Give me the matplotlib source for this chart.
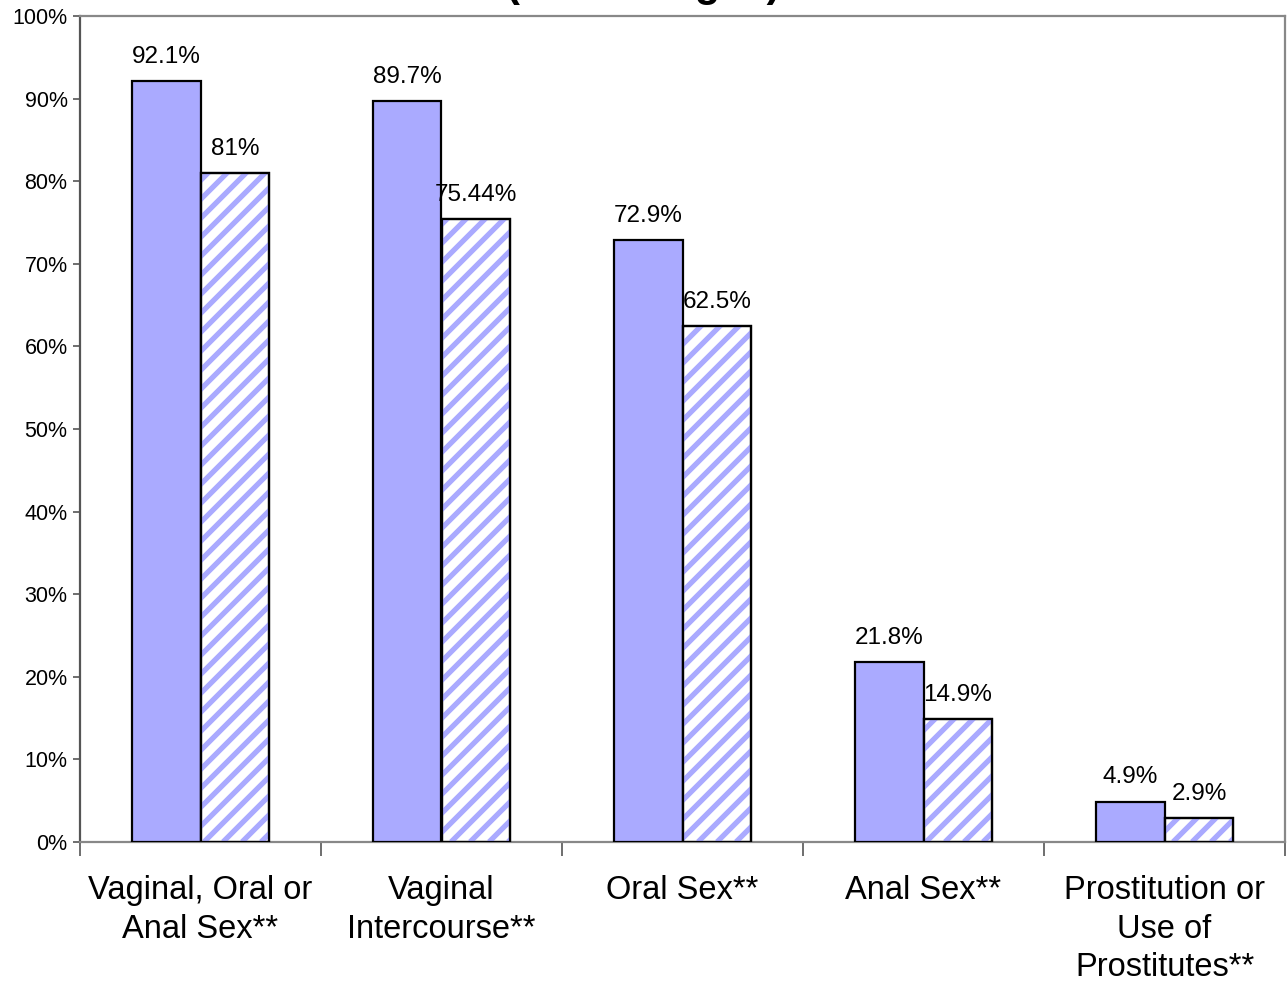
import matplotlib
matplotlib.use("Agg")
import matplotlib.pyplot as plt
import numpy as np
from matplotlib.ticker import FuncFormatter
from matplotlib.collections import LineCollection
from matplotlib.transforms import IdentityTransform

categories = ["Vaginal, Oral or\nAnal Sex**", "Vaginal\nIntercourse**", "Oral Sex**",
              "Anal Sex**", "Prostitution or\nUse of\nProstitutes**"]
solid_vals = [92.1, 89.7, 72.9, 21.8, 4.9]
hatch_vals = [81.0, 75.44, 62.5, 14.9, 2.9]
solid_labels = ["92.1%", "89.7%", "72.9%", "21.8%", "4.9%"]
hatch_labels = ["81%", "75.44%", "62.5%", "14.9%", "2.9%"]
title = "(Percentages)"

plt.rcParams['font.family'] = ['Liberation Sans', 'DejaVu Sans']

fig = plt.figure(figsize=(12.87, 9.83), dpi=100)
ax = fig.add_axes([80 / 1287, 141 / 983, 1205 / 1287, 826 / 983])

bar_color = "#AAAAFF"
w = 0.286
x = np.arange(len(categories))

ax.set_xlim(-0.5, len(categories) - 0.5)
ax.set_ylim(0, 100)

ax.bar(x - w / 2, solid_vals, w, color=bar_color, edgecolor="black", linewidth=1.6, zorder=3)
hbars = ax.bar(x + w / 2, hatch_vals, w, color="white", edgecolor="black", linewidth=1.6, zorder=3)

# diagonal stripes drawn in pixel space and clipped to each hatched bar
bb = ax.bbox
H = bb.height
step = 19
segs = [[(bb.x0 + c, bb.y0), (bb.x0 + c + H, bb.y0 + H)] for c in np.arange(-H, bb.width + step, step)]
for rect in hbars:
    lc = LineCollection(segs, colors=bar_color, linewidths=3.8, transform=IdentityTransform(), zorder=3.5)
    ax.add_collection(lc, autolim=False)
    lc.set_clip_path(rect)
    # outline again on top of the stripes
    ax.add_patch(plt.Rectangle(rect.get_xy(), rect.get_width(), rect.get_height(),
                               fill=False, edgecolor="black", linewidth=1.6, zorder=4))

for xi, v, lab in zip(x - w / 2, solid_vals, solid_labels):
    ax.text(xi, v + 1.6, lab, ha="center", va="bottom", fontsize=17.5, zorder=5)
for xi, v, lab in zip(x + w / 2, hatch_vals, hatch_labels):
    ax.text(xi, v + 1.6, lab, ha="center", va="bottom", fontsize=17.5, zorder=5)

ax.set_yticks(np.arange(0, 101, 10))
ax.yaxis.set_major_formatter(FuncFormatter(lambda v, p: f"{int(v)}%"))
ax.tick_params(axis="y", labelsize=15.5, length=5, width=1.2, color="#555555", pad=4)

ax.set_xticks(x)
ax.set_xticklabels(categories, fontsize=23.5, linespacing=1.3)
ax.tick_params(axis="x", length=0, pad=24)
ax.set_xticks(np.arange(-0.5, len(categories)), minor=True)
ax.tick_params(axis="x", which="minor", length=10, width=1.2, color="#555555")

for side in ["top", "right", "bottom"]:
    ax.spines[side].set_color("#888888")
    ax.spines[side].set_linewidth(1.6)
ax.spines["left"].set_color("#555555")
ax.spines["left"].set_linewidth(1.6)

# title sits mostly above the canvas, only its lower edge shows
fig.text(0.5, 1 + 4 / 983, title, ha="center", va="baseline", fontsize=30, fontweight="bold")

fig.savefig("out.png", dpi=100)
